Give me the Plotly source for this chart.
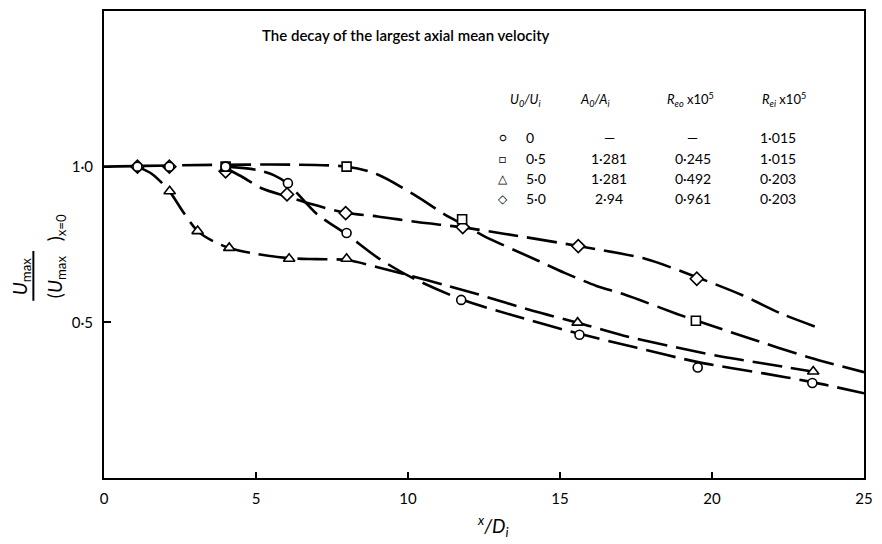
import plotly.graph_objects as go

# ---------------- data ----------------
# measured points: x/Di and Umax/(Umax)x=0
circle_x = [1.1, 2.15, 4.0, 6.05, 7.98, 11.75, 15.64, 19.53, 23.3]
circle_y = [1.0, 1.0, 1.0, 0.947, 0.787, 0.572, 0.46, 0.355, 0.305]

square_x = [4.0, 7.98, 11.78, 19.47]
square_y = [1.0, 1.0, 0.831, 0.505]

triangle_x = [2.16, 3.08, 4.12, 6.09, 7.98, 15.58, 23.33]
triangle_y = [0.921, 0.793, 0.739, 0.704, 0.704, 0.499, 0.342]

diamond_x = [1.1, 2.15, 4.0, 6.02, 7.95, 11.8, 15.6, 19.5]
diamond_y = [1.0, 1.0, 0.985, 0.911, 0.851, 0.806, 0.745, 0.64]

# hand-drawn dashed curves
circle_curve_x = [4.0, 5.0, 5.6, 6.05, 7.0, 7.98, 9.0, 10.1, 11.75, 13.5, 15.64, 17.5, 19.5, 21.7, 23.3, 25.0]
circle_curve_y = [1.0, 0.99, 0.972, 0.945, 0.848, 0.783, 0.708, 0.645, 0.574, 0.521, 0.463, 0.419, 0.373, 0.336, 0.308, 0.272]

square_curve_x = [0.0, 8.0, 9.0, 10.2, 11.2, 11.8, 12.5, 14.3, 15.15, 16.2, 17.1, 18.85, 19.5, 21.2, 23.2, 25.0]
square_curve_y = [1.0, 1.0, 0.975, 0.91, 0.847, 0.815, 0.777, 0.697, 0.659, 0.617, 0.59, 0.527, 0.505, 0.45, 0.387, 0.34]

triangle_curve_x = [1.1, 1.6, 2.16, 2.6, 3.08, 3.6, 4.12, 5.0, 6.09, 7.0, 8.0, 9.0, 10.0, 11.2, 12.3, 14.1, 15.58, 17.1, 18.85, 20.3, 21.7, 23.3]
triangle_curve_y = [1.0, 0.975, 0.92, 0.855, 0.793, 0.76, 0.739, 0.72, 0.706, 0.703, 0.70, 0.677, 0.652, 0.62, 0.59, 0.537, 0.499, 0.457, 0.419, 0.39, 0.368, 0.342]

diamond_curve_x = [4.0, 4.5, 5.2, 6.0, 6.85, 7.95, 9.0, 10.3, 11.8, 13.2, 15.6, 17.8, 19.5, 21.0, 22.3, 23.66]
diamond_curve_y = [0.995, 0.97, 0.93, 0.905, 0.879, 0.852, 0.84, 0.822, 0.805, 0.784, 0.745, 0.704, 0.645, 0.587, 0.527, 0.477]

# table in the figure
table_symbols = ["○", "□", "△", "◇"]
u_ratio = ["0", "0·5", "5·0", "5·0"]
a_ratio = ["—", "1·281", "1·281", "2·94"]
re_o = ["—", "0·245", "0·492", "0·961"]
re_i = ["1·015", "1·015", "0·203", "0·203"]

x_ticks = [0, 5, 10, 15, 20, 25]
y_ticks = [0.5, 1.0]
y_tick_text = ["0·5", "1·0"]

title_text = "The decay of the largest axial mean velocity"

# ---------------- figure ----------------
FONT = "Lato, 'Noto Sans', sans-serif"
W, H = 882, 544
L, R, T, B = 104, 868, 9, 478


def px(xp):
    return (xp - L) / (R - L)


def py(yp):
    return (B - yp) / (B - T)


fig = go.Figure()

dash = "30px,9px"
for cx, cy in [(circle_curve_x, circle_curve_y), (square_curve_x, square_curve_y),
               (triangle_curve_x, triangle_curve_y), (diamond_curve_x, diamond_curve_y)]:
    fig.add_trace(go.Scatter(x=cx, y=cy, mode="lines",
                             line=dict(color="black", width=2.6, dash=dash, shape="spline", smoothing=0.8),
                             showlegend=False, hoverinfo="skip"))

for mx, my, sym, size in [(diamond_x, diamond_y, "diamond", 10), (square_x, square_y, "square", 9),
                          (triangle_x, triangle_y, "triangle-up", 10), (circle_x, circle_y, "circle", 9)]:
    fig.add_trace(go.Scatter(x=mx, y=my, mode="markers",
                             marker=dict(symbol=sym, size=size, color="white",
                                         line=dict(color="black", width=1.6)),
                             showlegend=False))

ann = []
ann.append(dict(x=px(408), y=py(33), text=title_text, font=dict(size=15, weight=600)))

# table header
hdr_y = py(98)
ann.append(dict(x=px(528), y=hdr_y, text="<i>U<sub>0</sub>/U<sub>i</sub></i>", font=dict(size=13)))
ann.append(dict(x=px(598), y=hdr_y, text="<i>A<sub>0</sub>/A<sub>i</sub></i>", font=dict(size=13)))
ann.append(dict(x=px(694), y=hdr_y, text="<i>R<sub>eo</sub></i> x10<sup>5</sup>", font=dict(size=13)))
ann.append(dict(x=px(788), y=hdr_y, text="<i>R<sub>ei</sub></i> x10<sup>5</sup>", font=dict(size=13)))

row_ys = [136, 157, 177, 197]
for i, ry in enumerate(row_ys):
    yy = py(ry)
    ann.append(dict(x=px(505), y=yy, text=table_symbols[i], font=dict(size=12)))
    ann.append(dict(x=px(526), y=yy, text=u_ratio[i], xanchor="left", font=dict(size=14)))
    ann.append(dict(x=px(612), y=yy, text=a_ratio[i], font=dict(size=14)))
    ann.append(dict(x=px(696), y=yy, text=re_o[i], font=dict(size=14)))
    ann.append(dict(x=px(782), y=yy, text=re_i[i], font=dict(size=14)))

# axis titles
ann.append(dict(x=px(495), y=py(526), text="<i><sup>x</sup>/D<sub>i</sub></i>", font=dict(size=19)))
ann.append(dict(x=px(20), y=py(275), text="<i>U</i><sub>max</sub>", textangle=-90, font=dict(size=19)))
ann.append(dict(x=px(56), y=py(255), text="(<i>U</i><sub>max</sub>   )<sub>x=0</sub>", textangle=-90, font=dict(size=19)))

for a in ann:
    a.setdefault("xref", "paper")
    a.setdefault("yref", "paper")
    a.setdefault("showarrow", False)
    a.setdefault("xanchor", "center")
    a.setdefault("yanchor", "middle")
    a["font"].setdefault("color", "black")
    a["font"].setdefault("family", FONT)

fig.update_layout(
    width=W, height=H,
    margin=dict(l=L, r=W - R, t=T, b=H - B),
    paper_bgcolor="white", plot_bgcolor="white",
    font=dict(family=FONT, color="black", size=14),
    annotations=ann,
    shapes=[dict(type="line", xref="paper", yref="paper",
                 x0=px(33), x1=px(33), y0=py(250), y1=py(300),
                 line=dict(color="black", width=2))],
    xaxis=dict(range=[0, 25], tickvals=x_ticks, ticks="inside", ticklen=6, tickwidth=1.5,
               tickcolor="black", showgrid=False, zeroline=False, showline=True, linecolor="black",
               linewidth=2, mirror=True, tickfont=dict(size=15), ticklabelstandoff=6),
    yaxis=dict(range=[0, 1.5], tickvals=y_ticks, ticktext=y_tick_text, ticks="inside", ticklen=7,
               tickwidth=1.5, tickcolor="black", showgrid=False, zeroline=False, showline=True,
               linecolor="black", linewidth=2, mirror=True, tickfont=dict(size=15), ticklabelstandoff=6),
)

fig.write_html("out.html")
